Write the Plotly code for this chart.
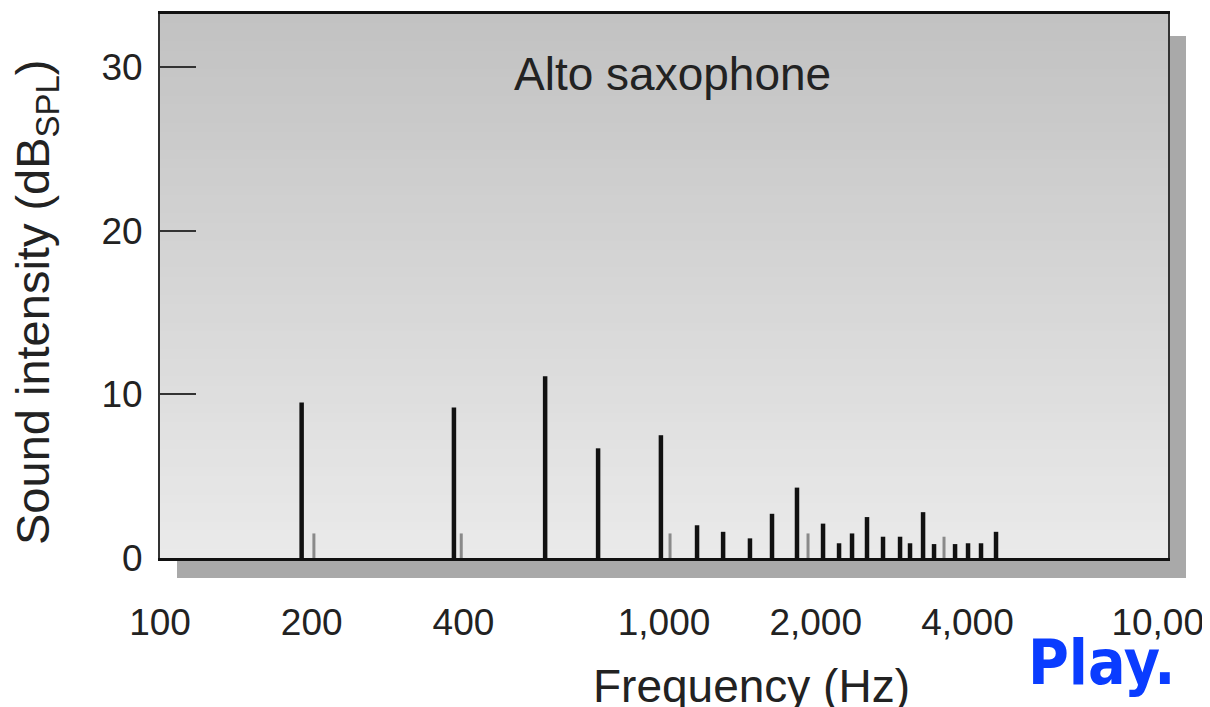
import plotly.graph_objects as go

# Harmonic components (black) and minor components (gray)
main_freq = [191, 383, 581, 740, 986, 1163, 1310, 1481, 1638, 1836, 2068, 2225, 2361,
             2528, 2720, 2940, 3077, 3266, 3434, 3780, 4011, 4256, 4558]
main_db = [9.5, 9.2, 11.1, 6.7, 7.5, 2.0, 1.6, 1.2, 2.7, 4.3, 2.1, 0.9, 1.5,
           2.5, 1.3, 1.3, 0.9, 2.8, 0.85, 0.85, 0.9, 0.9, 1.6]
minor_freq = [202, 396, 1028, 1931, 3594]
minor_db = [1.5, 1.5, 1.5, 1.5, 1.3]

x_tickvals = [100, 200, 400, 1000, 2000, 4000, 10000]
x_ticktext = ["100", "200", "400", "1,000", "2,000", "4,000", "10,000"]
y_tickvals = [0, 10, 20, 30]


def stems(xs, ys):
    px, py = [], []
    for f, d in zip(xs, ys):
        px += [f, f, None]
        py += [0, d, None]
    return px, py


fig = go.Figure()
mx, my = stems(minor_freq, minor_db)
fig.add_trace(go.Scatter(x=mx, y=my, mode="lines", line=dict(color="#8a8a8a", width=3),
                         hoverinfo="skip", showlegend=False))
bx, by = stems(main_freq, main_db)
fig.add_trace(go.Scatter(x=bx, y=by, mode="lines", line=dict(color="#111111", width=4.5),
                         hoverinfo="skip", showlegend=False))

# page body has an 8px margin: figure is drawn at screen offset (8, 8)
W, H = 1202, 699
L, T = 152, 6
pw, ph = 1008, 544
R = W - L - pw
B = H - T - ph


def px(sx):
    return (sx - 160) / pw


def py(sy):
    return (558 - sy) / ph


shapes = []
# drop shadow
shapes.append(dict(type="rect", xref="paper", yref="paper", layer="below",
                   x0=px(177), x1=px(1186), y0=py(578), y1=py(36),
                   fillcolor="#a9a9a9", line=dict(width=0)))
# vertical gradient background
n = 60
top = (194, 194, 194)
bot = (234, 234, 234)
for i in range(n):
    t = i / (n - 1)
    c = tuple(round(top[k] + (bot[k] - top[k]) * t) for k in range(3))
    y1 = 1 - i / n
    y0 = 1 - (i + 1) / n - 0.002
    shapes.append(dict(type="rect", xref="paper", yref="paper", layer="below",
                       x0=0, x1=1, y0=max(y0, 0), y1=y1,
                       fillcolor="rgb(%d,%d,%d)" % c, line=dict(width=0)))
# small blue fragment at the top right corner
shapes.append(dict(type="circle", xref="paper", yref="paper",
                   x0=px(1155), x1=px(1167), y0=py(5), y1=py(-7),
                   fillcolor="#0a3cff", line=dict(width=0)))

txt = "#222222"
fig.update_layout(
    width=W, height=H,
    margin=dict(l=L, r=R, t=T, b=B, autoexpand=False),
    paper_bgcolor="white",
    plot_bgcolor="rgba(0,0,0,0)",
    shapes=shapes,
    font=dict(family="Liberation Sans, Arial, sans-serif", color=txt),
    xaxis=dict(type="log", range=[2, 4], tickvals=x_tickvals, ticktext=x_ticktext,
               showgrid=False, zeroline=False,
               showline=True, linecolor="#111", linewidth=2.5, mirror=True,
               ticks="outside", ticklen=30, tickcolor="rgba(0,0,0,0)",
               ticklabeloverflow="allow",
               tickfont=dict(size=37, color=txt)),
    yaxis=dict(range=[0, 33.23], tickvals=y_tickvals, showgrid=False, zeroline=False,
               showline=True, linecolor="#333", linewidth=2, mirror=True,
               ticks="inside", ticklen=36, tickwidth=2, tickcolor="#333",
               ticklabelstandoff=8,
               tickfont=dict(size=37, color=txt)),
    annotations=[
        dict(text="Sound intensity (dB<sub>SPL</sub>)", xref="paper", yref="paper",
             x=px(36), y=py(303), textangle=-90, showarrow=False,
             font=dict(size=47, color=txt), xanchor="center", yanchor="middle"),
        dict(text="Alto saxophone", xref="paper", yref="paper",
             x=px(672), y=py(74), showarrow=False,
             font=dict(size=46, color=txt), xanchor="center", yanchor="middle"),
        dict(text="Frequency (Hz)", xref="paper", yref="paper",
             x=px(751), y=py(686), showarrow=False,
             font=dict(size=46, color=txt), xanchor="center", yanchor="middle"),
        dict(text="<b>Play.</b>", xref="paper", yref="paper",
             x=px(1102), y=py(662), showarrow=False,
             font=dict(size=62, color="#0a3cff",
                       family="DejaVu Sans Condensed, DejaVu Sans, sans-serif"),
             xanchor="center", yanchor="middle"),
    ],
)

fig.write_html("out.html")
